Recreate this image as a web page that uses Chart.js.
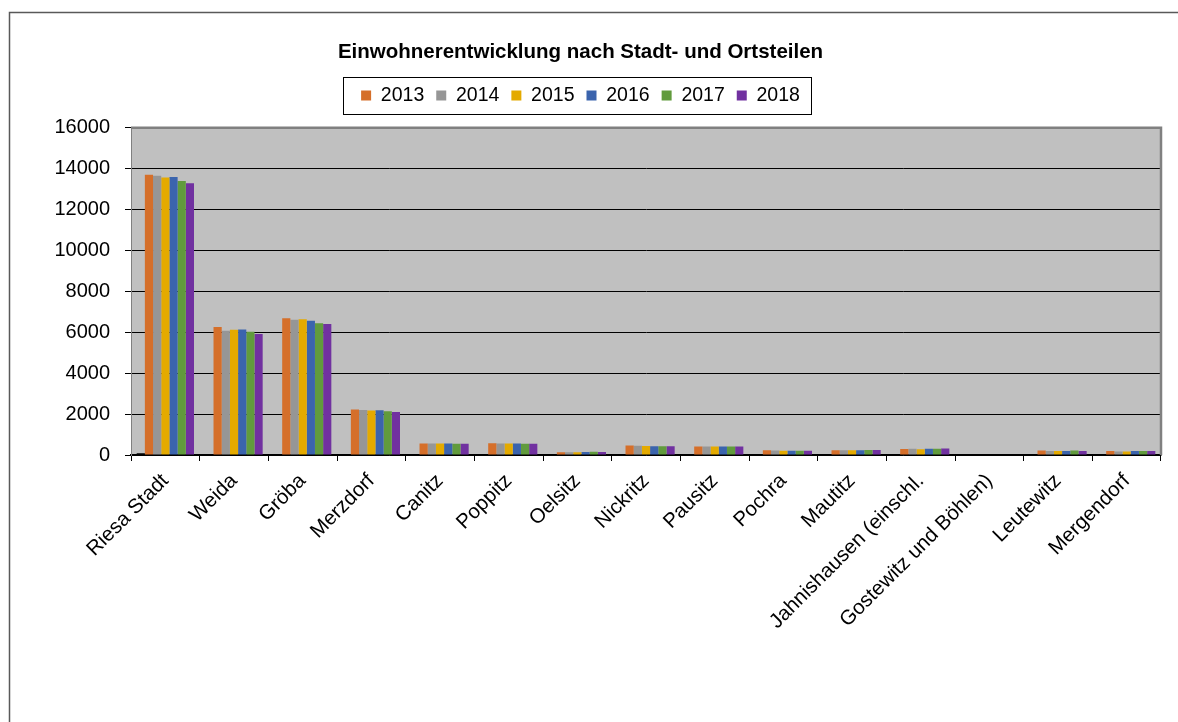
<!DOCTYPE html>
<html>
<head>
<meta charset="utf-8">
<script src="https://cdn.jsdelivr.net/npm/chart.js@4/dist/chart.umd.min.js"></script>
<style>
    html, body { margin: 0; padding: 0; background: #fff; }
    #wrap { position: relative; width: 1178px; height: 722px; }
</style>
</head>
<body>
<div id="wrap"><canvas id="popChart" width="1178" height="722"></canvas></div>
<script>
const districts = ['Riesa Stadt', 'Weida', 'Gröba', 'Merzdorf', 'Canitz', 'Poppitz', 'Oelsitz', 'Nickritz',
    'Pausitz', 'Pochra', 'Mautitz', 'Jahnishausen (einschl.', 'Gostewitz und Böhlen)', 'Leutewitz', 'Mergendorf'];

const years = ['2013', '2014', '2015', '2016', '2017', '2018'];

// stray first column in the source sheet (only a tiny mark at Riesa Stadt)
const extra = [90, null, null, null, null, null, null, null, null, null, null, null, null, null, null];

const pop2013 = [13700, 6260, 6690, 2220, 560, 570, 140, 470, 420, 230, 230, 290, null, 220, 190];
const pop2014 = [13650, 6070, 6610, 2200, 560, 560, 130, 450, 420, 220, 230, 310, null, 200, 170];
const pop2015 = [13570, 6120, 6640, 2170, 560, 560, 130, 440, 410, 210, 230, 280, null, 190, 170];
const pop2016 = [13590, 6130, 6560, 2190, 560, 560, 150, 430, 410, 210, 230, 310, null, 200, 190];
const pop2017 = [13390, 6020, 6440, 2140, 550, 550, 160, 430, 420, 210, 240, 310, null, 220, 190];
const pop2018 = [13290, 5920, 6410, 2100, 550, 550, 150, 430, 410, 210, 240, 320, null, 200, 190];

const yTicks = [0, 2000, 4000, 6000, 8000, 10000, 12000, 14000, 16000];

const yearColors = ['#d56f2a', '#969696', '#e4aa00', '#3b64ad', '#619b3d', '#7131a0'];
const fontFamily = '"Liberation Sans", Arial, sans-serif';

const frame = {
    id: 'frame',
    beforeDraw(chart) {
        const ctx = chart.ctx;
        const a = chart.chartArea;
        ctx.save();
        // outer chart border
        ctx.strokeStyle = '#595959';
        ctx.lineWidth = 1.5;
        ctx.beginPath();
        ctx.moveTo(9.5, 722);
        ctx.lineTo(9.5, 12.5);
        ctx.lineTo(1178, 12.5);
        ctx.stroke();
        // plot area
        ctx.fillStyle = '#c0c0c0';
        ctx.fillRect(a.left, a.top, a.right - a.left, a.bottom - a.top);
        ctx.restore();
    },
    afterDatasetsDraw(chart) {
        const ctx = chart.ctx;
        const a = chart.chartArea;
        ctx.save();
        ctx.strokeStyle = '#808080';
        ctx.lineWidth = 2.5;
        ctx.beginPath();
        ctx.moveTo(a.left, a.top);
        ctx.lineTo(a.right, a.top);
        ctx.lineTo(a.right, a.bottom);
        ctx.stroke();
        ctx.restore();
    },
    afterDraw(chart) {
        const boxes = chart.legend.legendHitBoxes;
        if (!boxes || !boxes.length) return;
        const first = boxes[0];
        const last = boxes[boxes.length - 1];
        const ctx = chart.ctx;
        ctx.save();
        ctx.strokeStyle = '#000';
        ctx.lineWidth = 1;
        ctx.strokeRect(Math.round(first.left - 18) + 0.5, Math.round(first.top - 8.75) + 0.5,
            Math.round(last.left + last.width - first.left + 29), 37);
        ctx.restore();
    }
};

const series = [pop2013, pop2014, pop2015, pop2016, pop2017, pop2018];

const datasets = [{
    label: '',
    data: extra,
    backgroundColor: '#000',
    borderWidth: 0
}].concat(series.map((values, i) => ({
    label: years[i],
    data: values,
    backgroundColor: yearColors[i],
    borderWidth: 0
})));

const ctx = document.getElementById('popChart').getContext('2d');
const chart = new Chart(ctx, {
    type: 'bar',
    data: {
        labels: districts,
        datasets: datasets
    },
    plugins: [frame],
    options: {
        responsive: false,
        animation: false,
        layout: {
            padding: { left: 0, right: 17, top: 0, bottom: 0 }
        },
        datasets: {
            bar: {
                categoryPercentage: 0.835,
                barPercentage: 1.0
            }
        },
        plugins: {
            title: {
                display: true,
                text: 'Einwohnerentwicklung nach Stadt- und Ortsteilen',
                color: '#000',
                font: { family: fontFamily, size: 20.5, weight: 'bold', lineHeight: 1.2 },
                padding: { top: 40.2, bottom: 8.95 }
            },
            subtitle: {
                // spacer between legend and plot area
                display: true,
                text: ' ',
                weight: 500,
                font: { size: 1, lineHeight: 1 },
                padding: { top: 0, bottom: 11.45 }
            },
            legend: {
                display: true,
                position: 'top',
                labels: {
                    color: '#000',
                    font: { family: fontFamily, size: 19.5 },
                    boxWidth: 10,
                    boxHeight: 10,
                    padding: 12,
                    filter: item => item.datasetIndex !== 0
                }
            },
            tooltip: { enabled: false }
        },
        scales: {
            x: {
                afterFit: scale => { scale.height = 267; },
                grid: {
                    drawOnChartArea: false,
                    drawTicks: true,
                    tickLength: 6,
                    color: '#000'
                },
                border: { color: '#000', width: 1.5 },
                ticks: {
                    autoSkip: false,
                    minRotation: 45,
                    maxRotation: 45,
                    padding: 8,
                    color: '#000',
                    font: { family: fontFamily, size: 20.5 }
                }
            },
            y: {
                min: 0,
                max: 16000,
                afterFit: scale => { scale.width = 131; },
                afterBuildTicks: scale => { scale.ticks = yTicks.map(v => ({ value: v })); },
                grid: {
                    color: '#000',
                    lineWidth: 1,
                    tickLength: 6
                },
                border: { color: '#808080', width: 1 },
                ticks: {
                    padding: 15,
                    color: '#000',
                    font: { family: fontFamily, size: 20 },
                    callback: value => String(value)
                }
            }
        }
    }
});
</script>
</body>
</html>
